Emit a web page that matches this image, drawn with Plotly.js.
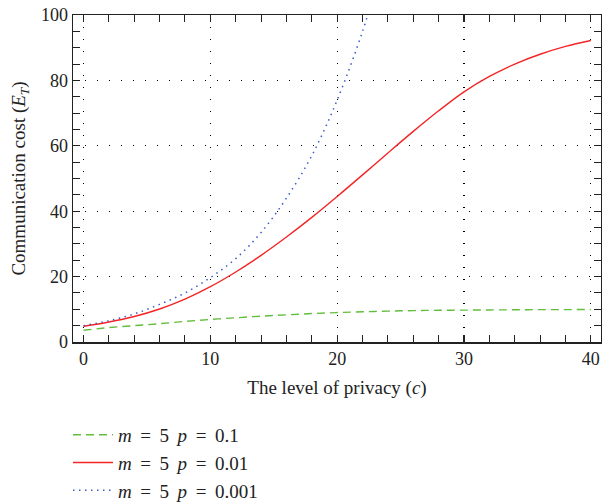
<!DOCTYPE html>
<html>
<head>
<meta charset="utf-8">
<script src="https://cdn.plot.ly/plotly-3.0.1.min.js"></script>
<style>html,body{margin:0;padding:0;background:#fff;}#chart{width:602px;height:504px;}</style>
</head>
<body>
<div id="chart"></div>
<script>
// privacy level c
var cLevels = [0,2,4,6,8,10,12,14,16,18,20,22,24,26,28,30,32,34,36,38,40];
// m = 5, p = 0.1
var costP01 = [3.6,4.4,5.0,5.6,6.3,6.9,7.4,7.9,8.3,8.7,9.0,9.25,9.45,9.6,9.7,9.75,9.8,9.85,9.9,9.9,9.95];
// m = 5, p = 0.01
var costP001 = [4.8,6.1,7.8,10.1,13.1,16.9,21.4,26.5,32.1,38.1,44.5,51.1,57.8,64.4,70.7,76.5,81.2,85.0,88.0,90.4,92.2];
// m = 5, p = 0.001 (runs off the top of the chart)
var cLevelsP0001 = [0,2,4,6,8,10,12,14,16,18,20,22,23];
var costP0001 = [5.0,6.5,8.6,11.5,15.0,19.7,25.5,33.5,44.0,57.0,74.0,95.0,108.0];

var SP = ' \u2009';
var seriesNames = [
  '<i>m</i>' + SP + '=' + SP + '5' + SP + '<i>p</i>' + SP + '=' + SP + '0.1',
  '<i>m</i>' + SP + '=' + SP + '5' + SP + '<i>p</i>' + SP + '=' + SP + '0.01',
  '<i>m</i>' + SP + '=' + SP + '5' + SP + '<i>p</i>' + SP + '=' + SP + '0.001'
];
var xTickVals = [0,10,20,30,40];
var yTickVals = [0,20,40,60,80,100];
var xRange = [-0.83, 40.8];
var yRange = [0, 100];

var FONT = 'Liberation Serif, Times New Roman, serif';

var traces = [
  {x: cLevels, y: costP01, name: seriesNames[0], mode: 'lines',
   line: {color: '#63bd3c', width: 1.4, dash: '8px,5px', shape: 'spline', smoothing: 1}},
  {x: cLevels, y: costP001, name: seriesNames[1], mode: 'lines',
   line: {color: '#f42424', width: 1.4, shape: 'spline', smoothing: 1}},
  {x: cLevelsP0001, y: costP0001, name: seriesNames[2], mode: 'lines',
   line: {color: '#3a5cc8', width: 1.5, dash: '1.5px,4.5px', shape: 'spline', smoothing: 1}},
  // carriers for the mirrored minor ticks (top and right)
  {x: [], y: [], xaxis: 'x2', yaxis: 'y', showlegend: false, hoverinfo: 'skip', mode: 'lines'},
  {x: [], y: [], xaxis: 'x', yaxis: 'y2', showlegend: false, hoverinfo: 'skip', mode: 'lines'}
];

var axisCommon = {
  showline: true, linecolor: '#222', linewidth: 1.5, mirror: 'allticks',
  ticks: 'inside', ticklen: 7, tickwidth: 1.2, tickcolor: '#222',
  showgrid: true, gridcolor: '#000', gridwidth: 1.3, griddash: '1.3px,10.7px',
  zeroline: false,
  tickfont: {family: FONT, size: 18, color: '#222'}
};

var layout = {
  width: 602, height: 504,
  margin: {l: 73, r: 1, t: 15, b: 162, autoexpand: false},
  paper_bgcolor: '#fff', plot_bgcolor: '#fff',
  font: {family: FONT, color: '#222'},
  showlegend: true,
  xaxis: Object.assign({}, axisCommon, {
    range: xRange, tickmode: 'array', tickvals: xTickVals,
    minor: {dtick: 2, tick0: 0, ticks: 'inside', ticklen: 4, tickwidth: 1, tickcolor: '#222', showgrid: false},
    title: {text: 'The level of privacy (<i>c</i>)', font: {family: FONT, size: 19, color: '#222'}, standoff: 12}
  }),
  yaxis: Object.assign({}, axisCommon, {
    range: yRange, tickmode: 'array', tickvals: yTickVals,
    minor: {dtick: 5, tick0: 0, ticks: 'inside', ticklen: 4, tickwidth: 1, tickcolor: '#222', showgrid: false},
    title: {text: 'Communication cost (<i>E</i><sub><i>T</i></sub>)', font: {family: FONT, size: 19, color: '#222'}, standoff: 10}
  }),
  xaxis2: {
    overlaying: 'x', side: 'top', anchor: 'y', range: xRange,
    tickmode: 'linear', tick0: 0, dtick: 2, ticks: 'inside', ticklen: 4, tickwidth: 1, tickcolor: '#222',
    showticklabels: false, showgrid: false, showline: false, zeroline: false
  },
  yaxis2: {
    overlaying: 'y', side: 'right', anchor: 'x', range: yRange,
    tickmode: 'linear', tick0: 0, dtick: 5, ticks: 'inside', ticklen: 4, tickwidth: 1, tickcolor: '#222',
    showticklabels: false, showgrid: false, showline: false, zeroline: false
  },
  legend: {
    x: -0.0095, xanchor: 'left', y: -0.226, yanchor: 'top',
    orientation: 'v', traceorder: 'normal', itemwidth: 40,
    font: {family: FONT, size: 19, color: '#222'},
    bgcolor: 'rgba(0,0,0,0)'
  }
};

Plotly.newPlot('chart', traces, layout, {displayModeBar: false, staticPlot: true});
</script>
</body>
</html>
